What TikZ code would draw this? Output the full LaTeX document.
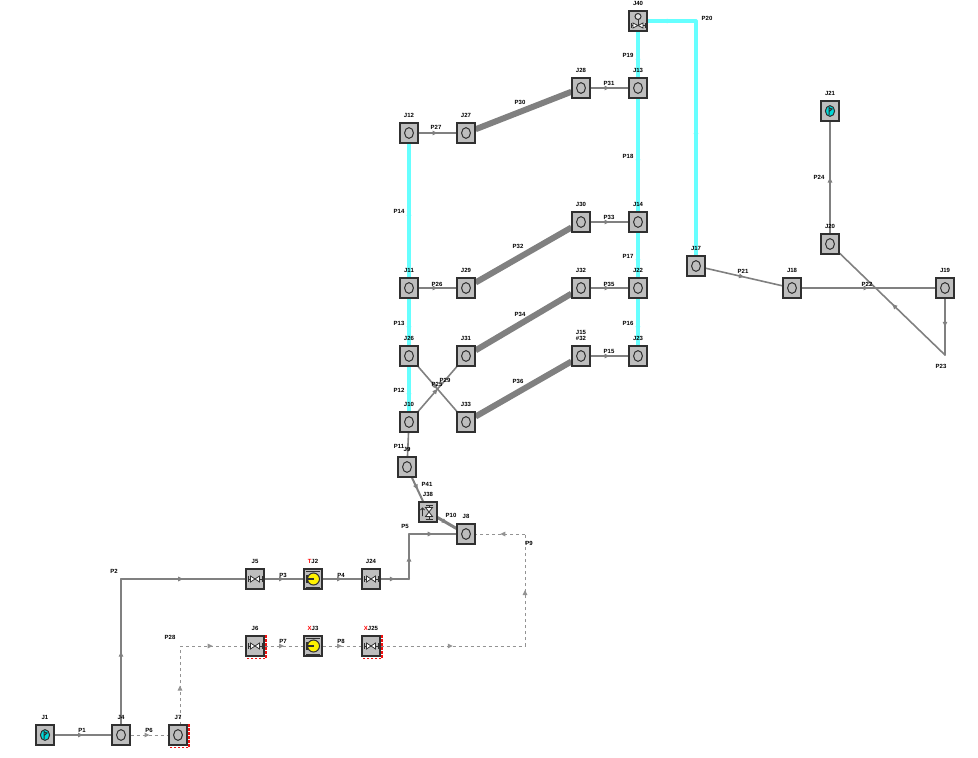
\documentclass[tikz,border=0pt]{standalone}
\usepackage{fontspec}
\setsansfont{Liberation Sans}
\usetikzlibrary{arrows.meta,decorations.markings,backgrounds}

\definecolor{boxgray}{HTML}{BEBEBE}
\definecolor{pipegray}{HTML}{808080}
\definecolor{pipecyan}{HTML}{66FFFF}
\definecolor{edgedark}{HTML}{303030}
\definecolor{watercyan}{HTML}{00D8D8}
\definecolor{closedred}{HTML}{F01010}

\tikzset{
    pipelabel/.style={inner sep=0pt, align=center, font=\sffamily\bfseries\fontsize{6}{6.5}\selectfont},
    junction/.style={rectangle, draw=edgedark, line width=1.2pt, fill=boxgray, minimum width=18pt, minimum height=20pt, inner sep=0pt,
        label={[pipelabel, label distance=4.5pt]above:#1}},
    plain/.style={junction=#1, path picture={
        \draw[edgedark, line width=1pt] (path picture bounding box.center) ellipse (4.4pt and 5.4pt);}},
    valve/.style={junction=#1, path picture={
        \begin{scope}[shift={(path picture bounding box.center)}]
        \draw[edgedark, line width=0.8pt, fill=white] (-4.5,-3) -- (4.5,3) -- (4.5,-3) -- (-4.5,3) -- cycle;
        \draw[edgedark, line width=0.9pt] (-7,-3) -- (-7,3) (7,-3) -- (7,3) (-7,0) -- (-4.5,0) (4.5,0) -- (7,0);
        \end{scope}}},
    pump/.style={junction=#1, path picture={
        \begin{scope}[shift={(path picture bounding box.center)}]
        \draw[edgedark, line width=1pt] (-7,-8) -- (7,-8) (-7,8) -- (7,8);
        \draw[edgedark, line width=1pt, fill=yellow] (0.5,0) circle (6pt);
        \draw[edgedark, line width=1.1pt] (-6,-4) -- (-6,4) (-6,0) -- (1,0);
        \end{scope}}},
    source/.style={junction=#1, path picture={
        \begin{scope}[shift={(path picture bounding box.center)}]
        \draw[edgedark, line width=1pt, fill=watercyan] (0,0) ellipse (4.6pt and 5.4pt);
        \draw[edgedark, line width=1pt] (-0.8,4) -- (-0.8,-4) (-0.8,-3) -- (2,-2) -- (-0.8,0.5);
        \end{scope}}},
    checkvalve/.style={junction=#1, path picture={
        \begin{scope}[shift={(path picture bounding box.center)}]
        \draw[edgedark, line width=0.8pt, fill=white] (-2.5,-4.5) -- (4.5,4.5) -- (-2.5,4.5) -- (4.5,-4.5) -- cycle;
        \draw[edgedark, line width=0.9pt] (-2.5,-7) -- (4.5,-7) (-2.5,7) -- (4.5,7) (1,-7) -- (1,-4.5) (1,4.5) -- (1,7);
        \draw[edgedark, line width=0.9pt] (-5.5,4) -- (-5.5,-4) (-7.5,-2) -- (-5.5,-4) -- (-3.5,-2);
        \end{scope}}},
    controlvalve/.style={junction=#1, path picture={
        \begin{scope}[shift={(path picture bounding box.center)}]
        \draw[edgedark, line width=0.8pt, fill=white] (-5,2) -- (5,7) -- (5,2) -- (-5,7) -- cycle;
        \draw[edgedark, line width=1pt] (0,4.5) -- (0,-3);
        \draw[edgedark, line width=1pt, fill=boxgray!50!white] (0,-4.5) circle (3pt);
        \draw[edgedark, line width=1pt] (-7,2) -- (-7,7) (7,2) -- (7,7) (-7,4.5) -- (-5,4.5) (5,4.5) -- (7,4.5);
        \end{scope}}},
    closedmark/.style={draw=closedred, line width=1.3pt, dash pattern=on 2.5pt off 1.5pt},
    flowtip/.style={decoration={markings, mark=at position #1 with {\arrow{Triangle[length=5pt,width=4.5pt]}}}, postaction={decorate}},
    flowtip/.default=0.5,
    pipe/.style={pipegray, line width=2pt, line cap=round, flowtip},
    thinpipe/.style={pipegray, line width=1.6pt, line cap=round, flowtip},
    waterpipe/.style={pipecyan, line width=3.2pt, line cap=round, flowtip},
    bigpipe/.style={pipegray, line width=6pt, flowtip},
    deadpipe/.style={pipegray!85, line width=1pt, dash pattern=on 3pt off 3pt, flowtip},
}

\begin{document}
\begin{tikzpicture}[x=1pt, y=-1pt]
    \useasboundingbox (0,0) rectangle (978,758);

    % junctions
    \foreach \name/\x/\y in {J13/638/88, J28/581/88, J27/466/133, J12/409/133, J30/581/222, J14/638/222,
        J29/466/288, J11/409/288, J32/581/288, J22/638/288, J26/409/356, J31/466/356, J23/638/356,
        J10/409/422, J33/466/422, J9/407/467, J8/466/534, J4/121/735, J17/696/266, J18/792/288,
        J19/945/288, J20/830/244}
        \node[plain=\name] (\name) at (\x,\y) {};
    \node[plain={J15\\\#32}] (J15) at (581,356) {};
    \node[plain=J7] (J7) at (178,735) {};
    \node[source=J1] (J1) at (45,735) {};
    \node[source=J21] (J21) at (830,111) {};
    \node[valve=J5] (J5) at (255,579) {};
    \node[valve=J24] (J24) at (371,579) {};
    \node[valve=J6] (J6) at (255,646) {};
    \node[valve={\textcolor{red}{X}J25}] (J25) at (371,646) {};
    \node[pump={\textcolor{red}{T}J2}] (J2) at (313,579) {};
    \node[pump={\textcolor{red}{X}J3}] (J3) at (313,646) {};
    \node[checkvalve=J38] (J38) at (428,512) {};
    \node[controlvalve=J40] (J40) at (638,21) {};

    % bends
    \coordinate (bendA) at (121,579);
    \coordinate (bendB) at (409,579);
    \coordinate (bendC) at (409,534);
    \coordinate (bendD) at (180,646);
    \coordinate (bendE) at (180,725);
    \coordinate (bendF) at (525,646);
    \coordinate (bendG) at (525,534);
    \coordinate (bendH) at (696,21);
    \coordinate (bendI) at (945,355);

    % pipes
    \begin{scope}[on background layer]
    \foreach \from/\to in {J1/J4, J4/bendA, bendA/J5, J5/J2, J2/J24, J24/bendB, bendB/bendC, bendC/J8,
        J28/J13, J12/J27, J11/J29, J30/J14, J32/J22, J15/J23, J9/J38}
        \draw[pipe] (\from) -- (\to);
    \foreach \from/\to in {J10/J31, J26/J33, J17/J18, J18/J19, J19/bendI, bendI/J20, J20/J21}
        \draw[thinpipe] (\from) -- (\to);
    \foreach \from/\to in {J10/J26, J26/J11, J11/J12, J14/J13, J13/J40, J22/J14, J23/J22, J40/bendH, bendH/J17}
        \draw[waterpipe] (\from) -- (\to);
    \foreach \from/\to in {J27/J28, J29/J30, J31/J32, J33/J15}
        \draw[bigpipe] (\from) -- (\to);
    \foreach \from/\to in {J4/J7, bendE/bendD, bendD/J6, J6/J3, J3/J25, J25/bendF, bendF/bendG, bendG/J8}
        \draw[deadpipe] (\from) -- (\to);
    \draw[pipegray, line width=1.6pt, flowtip=0.85] (J10) -- (J9);
    \draw[pipegray, line width=3pt, flowtip] (J38) -- (J8);
    \end{scope}

    % pipe names
    \foreach \name/\x/\y in {P1/82/730, P2/114/571, P3/283/575, P4/341/575, P5/405/526, P6/149/730,
        P28/170/637, P7/283/641, P8/341/641, P9/529/543, P10/451/515, P41/427/484, P11/399/446,
        P12/399/390, P13/399/323, P14/399/211, P26/437/284, P27/436/127, P30/520/102, P31/609/83,
        P19/628/55, P18/628/156, P17/628/256, P16/628/323, P15/609/351, P33/609/217, P32/518/246,
        P35/609/284, P34/520/314, P36/518/381, P20/707/18, P21/743/271, P22/867/284, P23/941/366,
        P24/819/177, P25/437/384, P29/445/380}
        \node[pipelabel] (\name) at (\x,\y) {\name};

    % closed junctions
    \foreach \name in {J6,J25,J7}
        \draw[closedmark] ([xshift=1.5pt]\name.north east) |- ([yshift=-2pt]\name.south west);
\end{tikzpicture}
\end{document}
